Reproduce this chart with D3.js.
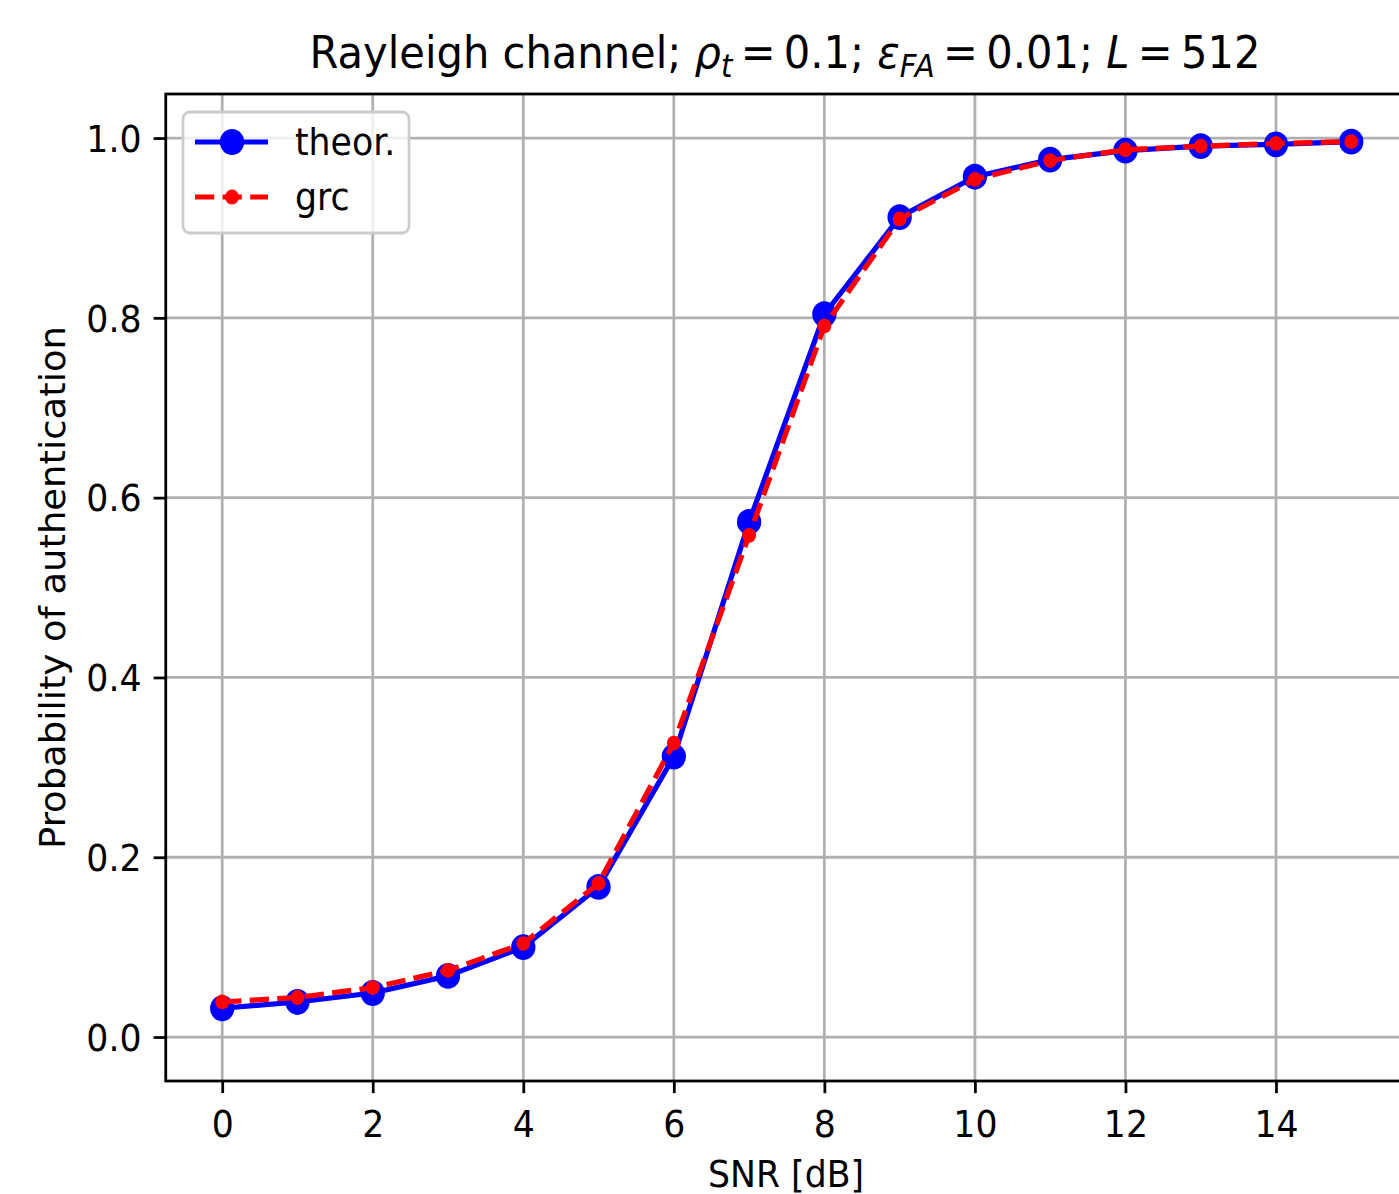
<!DOCTYPE html>
<html>
<head>
<meta charset="utf-8">
<script src="https://cdn.jsdelivr.net/npm/d3@7"></script>
<style>
  body { margin: 0; background: #fff; }
  text { font-family: "DejaVu Sans", sans-serif; }
</style>
</head>
<body>
<div id="chart"></div>
<script>
// Data
const snr = [0, 1, 2, 3, 4, 5, 6, 7, 8, 9, 10, 11, 12, 13, 14, 15];
const theor = [0.032, 0.039, 0.049, 0.068, 0.100, 0.167, 0.312, 0.573, 0.804, 0.912, 0.957, 0.976, 0.986, 0.991, 0.993, 0.996];
const grc = [0.039, 0.044, 0.055, 0.074, 0.104, 0.171, 0.327, 0.558, 0.791, 0.910, 0.954, 0.975, 0.987, 0.991, 0.994, 0.996];
const xTicks = [0, 2, 4, 6, 8, 10, 12, 14];
const yTicks = [0.0, 0.2, 0.4, 0.6, 0.8, 1.0];

// Layout (matplotlib-like, pt scaled to px; picture is a bit taller than wide)
const W = 1399, H = 1194;
const pt = 3.47;
const sy = 1.065; // vertical stretch of the picture
const fs = 10 * pt;
const plot = { left: 165.75, right: 1407.7, top: 94, bottom: 1081 };

const svg = d3.select("#chart").append("svg")
    .attr("width", W)
    .attr("height", H);

const x = d3.scaleLinear().domain([-0.75, 15.75]).range([plot.left, plot.right]);
const y = d3.scaleLinear().domain([-0.0489, 1.049]).range([plot.bottom, plot.top]);

// Grid lines
const grid = svg.append("g");
grid.selectAll(".gx")
    .data(xTicks)
    .join("line")
    .attr("x1", d => x(d)).attr("x2", d => x(d))
    .attr("y1", plot.top).attr("y2", plot.bottom)
    .attr("stroke", "#b0b0b0").attr("stroke-width", 0.8 * pt);
grid.selectAll(".gy")
    .data(yTicks)
    .join("line")
    .attr("y1", d => y(d)).attr("y2", d => y(d))
    .attr("x1", plot.left).attr("x2", plot.right)
    .attr("stroke", "#b0b0b0").attr("stroke-width", 0.8 * pt);

// Axes
const xAxis = svg.append("g")
    .attr("transform", `translate(0,${plot.bottom})`)
    .call(d3.axisBottom(x).tickValues(xTicks).tickSize(3.5 * pt).tickFormat(d3.format("d")));
const yAxis = svg.append("g")
    .attr("transform", `translate(${plot.left},0)`)
    .call(d3.axisLeft(y).tickValues(yTicks).tickSize(3.5 * pt).tickPadding(3.5 * pt).tickFormat(d3.format(".1f")));

[xAxis, yAxis].forEach(function (a) {
    a.select(".domain").remove();
    a.selectAll(".tick line").attr("stroke", "#000").attr("stroke-width", 0.8 * pt);
    a.selectAll(".tick text")
        .attr("fill", "#000")
        .style("font-size", fs + "px")
        .style("font-family", "DejaVu Sans");
});
xAxis.selectAll(".tick text")
    .attr("y", 56 / sy).attr("dy", 0)
    .attr("transform", `scale(1,${sy})`);
yAxis.selectAll(".tick text")
    .attr("dy", "0.36em")
    .attr("transform", `scale(1,${sy})`);

// Spines
svg.append("rect")
    .attr("x", plot.left).attr("y", plot.top)
    .attr("width", plot.right - plot.left).attr("height", plot.bottom - plot.top)
    .attr("fill", "none").attr("stroke", "#000").attr("stroke-width", 0.8 * pt);

// Lines
const line = d3.line()
    .x((d, i) => x(snr[i]))
    .y(d => y(d));

const blue = svg.append("g");
blue.append("path")
    .attr("d", line(theor))
    .attr("fill", "none").attr("stroke", "#0000ff").attr("stroke-width", 1.5 * pt)
    .attr("stroke-linejoin", "round");
blue.selectAll("ellipse")
    .data(theor)
    .join("ellipse")
    .attr("cx", (d, i) => x(snr[i]))
    .attr("cy", d => y(d))
    .attr("rx", 3.5 * pt)
    .attr("ry", 3.5 * pt * sy)
    .attr("fill", "#0000ff");

const red = svg.append("g");
red.append("path")
    .attr("d", line(grc))
    .attr("fill", "none").attr("stroke", "#ff0000").attr("stroke-width", 1.5 * pt)
    .attr("stroke-dasharray", `${5.55 * pt},${2.4 * pt}`);
red.selectAll("ellipse")
    .data(grc)
    .join("ellipse")
    .attr("cx", (d, i) => x(snr[i]))
    .attr("cy", d => y(d))
    .attr("rx", 2 * pt)
    .attr("ry", 2 * pt * sy)
    .attr("fill", "#ff0000");

// Axis labels
svg.append("g")
    .attr("transform", `translate(786,1187) scale(1,${sy})`)
    .append("text")
    .attr("text-anchor", "middle")
    .style("font-size", fs + "px")
    .text("SNR [dB]");

svg.append("text")
    .attr("transform", `translate(65,${(plot.top + plot.bottom) / 2}) rotate(-90) scale(${sy},1)`)
    .attr("text-anchor", "middle")
    .style("font-size", fs + "px")
    .text("Probability of authentication");

// Title with math parts
const title = svg.append("g")
    .attr("transform", `translate(${785},68) scale(1,${sy})`)
    .append("text")
    .attr("text-anchor", "middle")
    .style("font-size", (12 * pt) + "px");
const sub = 12 * pt * 0.7;
const eq = "\u2009=\u2009";
title.append("tspan").text("Rayleigh channel; ");
title.append("tspan").style("font-style", "italic").text("ρ");
title.append("tspan").style("font-style", "italic").style("font-size", sub + "px").attr("dy", 8).text("t");
title.append("tspan").attr("dy", -8).text(eq + "0.1; ");
title.append("tspan").style("font-style", "italic").text("ε");
title.append("tspan").style("font-style", "italic").style("font-size", sub + "px").attr("dy", 8).text("FA");
title.append("tspan").attr("dy", -8).text(eq + "0.01; ");
title.append("tspan").style("font-style", "italic").text("L");
title.append("tspan").text(eq + "512");

// Legend
const lg = svg.append("g").attr("transform", "translate(183,112)");
lg.append("rect")
    .attr("width", 226).attr("height", 121)
    .attr("rx", 7).attr("ry", 7)
    .attr("fill", "#fff").attr("fill-opacity", 0.8)
    .attr("stroke", "#cccccc").attr("stroke-width", 0.8 * pt);

const entries = [
    { name: "theor.", color: "#0000ff", dash: null, r: 3.5 * pt },
    { name: "grc", color: "#ff0000", dash: `${5.55 * pt},${2.4 * pt}`, r: 2 * pt }
];
const row = lg.selectAll(".row")
    .data(entries)
    .join("g")
    .attr("transform", (d, i) => `translate(0,${30 + i * 55})`);
row.append("line")
    .attr("x1", 12).attr("x2", 85)
    .attr("stroke", d => d.color).attr("stroke-width", 1.5 * pt)
    .attr("stroke-dasharray", d => d.dash);
row.append("ellipse")
    .attr("cx", 49).attr("rx", d => d.r).attr("ry", d => d.r * sy)
    .attr("fill", d => d.color);
row.append("text")
    .attr("x", 112).attr("dy", "0.36em")
    .attr("transform", `scale(1,${sy})`)
    .style("font-size", fs + "px")
    .text(d => d.name);
</script>
</body>
</html>
